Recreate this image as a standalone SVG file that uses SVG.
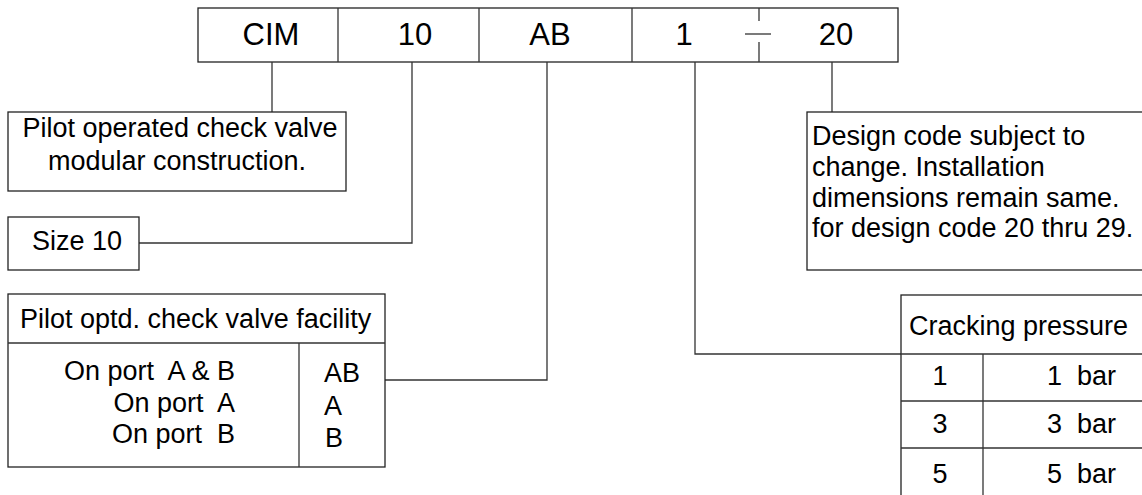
<svg xmlns="http://www.w3.org/2000/svg" width="1142" height="495" viewBox="0 0 1142 495">
<style>
.box{fill:#fff;stroke:#222;stroke-width:1.3}
.ln{fill:none;stroke:#333;stroke-width:1.3}
.conn{fill:none;stroke:#333;stroke-width:1.3}
text{font-family:"Liberation Sans",Arial,sans-serif;fill:#000;white-space:pre}
.big{font-size:31px;text-anchor:middle}
.lbl{font-size:27px}
.c{text-anchor:middle}
.e{text-anchor:end}
</style>
<rect width="1142" height="495" fill="#fff"/>
<g id="code">
<rect class="box" x="198" y="8" width="700" height="54"/>
<line class="ln" x1="338" y1="8" x2="338" y2="62"/>
<line class="ln" x1="479" y1="8" x2="479" y2="62"/>
<line class="ln" x1="632" y1="8" x2="632" y2="62"/>
<line class="ln" x1="759" y1="8" x2="759" y2="21"/>
<line class="ln" x1="759" y1="42" x2="759" y2="62"/>
<line class="ln" x1="745" y1="34" x2="771" y2="34"/>
<text class="big" x="271" y="45">CIM</text>
<text class="big" x="415" y="45">10</text>
<text class="big" x="550" y="45">AB</text>
<text class="big" x="684" y="45">1</text>
<text class="big" x="836" y="45">20</text>
</g>
<g id="connectors">
<polyline class="conn" points="272,62 272,112"/>
<polyline class="conn" points="412,62 412,243 139,243"/>
<polyline class="conn" points="547,62 547,380 385,380"/>
<polyline class="conn" points="695,62 695,354 901,354"/>
<polyline class="conn" points="832,62 832,112"/>
</g>
<g id="series">
<rect class="box" x="8" y="112" width="338" height="79"/>
<text class="lbl c" x="180" y="137">Pilot operated check valve</text>
<text class="lbl c" x="177" y="170">modular construction.</text>
</g>
<g id="size">
<rect class="box" x="8" y="217" width="131" height="53"/>
<text class="lbl" x="32" y="250">Size 10</text>
</g>
<g id="facility">
<rect class="box" x="8" y="294" width="377" height="173"/>
<line class="ln" x1="8" y1="343" x2="385" y2="343"/>
<line class="ln" x1="299" y1="343" x2="299" y2="467"/>
<text class="lbl" x="20" y="328">Pilot optd. check valve facility</text>
<text class="lbl e" x="235" y="380">On port  A &amp; B</text>
<text class="lbl e" x="235" y="412">On port  A</text>
<text class="lbl e" x="235" y="443">On port  B</text>
<text class="lbl" x="324" y="382">AB</text>
<text class="lbl" x="324" y="415">A</text>
<text class="lbl" x="325" y="447">B</text>
</g>
<g id="design">
<rect class="box" x="807" y="112" width="345" height="158"/>
<text class="lbl" x="812" y="145">Design code subject to</text>
<text class="lbl" x="812" y="176">change. Installation</text>
<text class="lbl" x="812" y="207">dimensions remain same.</text>
<text class="lbl" x="812" y="237">for design code 20 thru 29.</text>
</g>
<g id="cracking">
<rect class="box" x="901" y="295" width="251" height="210"/>
<line class="ln" x1="901" y1="354" x2="1142" y2="354"/>
<line class="ln" x1="901" y1="401" x2="1142" y2="401"/>
<line class="ln" x1="901" y1="448" x2="1142" y2="448"/>
<line class="ln" x1="983" y1="354" x2="983" y2="495"/>
<text class="lbl" x="909" y="335">Cracking pressure</text>
<text class="lbl c" x="940" y="385">1</text>
<text class="lbl c" x="940" y="433">3</text>
<text class="lbl c" x="940" y="483">5</text>
<text class="lbl" x="1047" y="385">1  bar</text>
<text class="lbl" x="1047" y="433">3  bar</text>
<text class="lbl" x="1047" y="483">5  bar</text>
</g>
</svg>
